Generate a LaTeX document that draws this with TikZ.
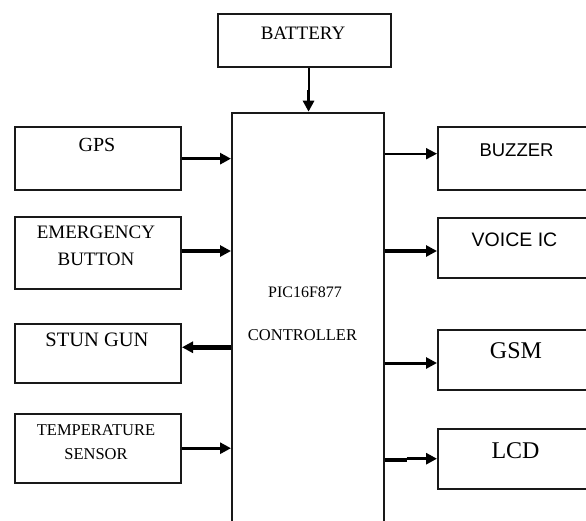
\documentclass[tikz,border=0pt]{standalone}
\usepackage{fontspec}
\setmainfont{Liberation Serif}
\newfontfamily\sansf{Liberation Sans}
\usetikzlibrary{arrows.meta}
\begin{document}
\begin{tikzpicture}[x=1pt,y=-1pt,
  blk/.style={draw=black!90,line width=2pt,inner sep=0pt,anchor=north west},
  lbl/.style={anchor=base,inner sep=0pt,text=black},
  con/.style={draw=black,line width=#1,-{Triangle[length=11pt,width=11pt]}},
]
\useasboundingbox (0,0) rectangle (586,520);
\clip (0,0) rectangle (586,520);
% boxes
\node[blk,minimum width=173.3pt,minimum height=53.3pt] (bat) at (216.7,12.7) {};
\node[blk,minimum width=151.7pt,minimum height=430pt] (ctrl) at (231,111.7) {};
\node[blk,minimum width=166pt,minimum height=63.3pt] (gps) at (14,126) {};
\node[blk,minimum width=166pt,minimum height=72pt] (emg) at (14,216) {};
\node[blk,minimum width=166pt,minimum height=59.7pt] (stun) at (14,322.7) {};
\node[blk,minimum width=166pt,minimum height=69pt] (temp) at (14,412.7) {};
\node[blk,minimum width=166pt,minimum height=63pt] (buz) at (437,126) {};
\node[blk,minimum width=166pt,minimum height=60pt] (voice) at (437,216.7) {};
\node[blk,minimum width=166pt,minimum height=60pt] (gsm) at (437,329) {};
\node[blk,minimum width=166pt,minimum height=60pt] (lcd) at (437,427.7) {};
% labels
\node[lbl,font=\fontsize{19}{21}\selectfont] (tbat) at (303,39.3) {BATTERY};
\node[lbl,font=\fontsize{20}{22}\selectfont] (tgps) at (97,151) {GPS};
\node[lbl,font=\fontsize{19}{21}\selectfont] (temg1) at (96,238.3) {EMERGENCY};
\node[lbl,font=\fontsize{19}{21}\selectfont] (temg2) at (96,265) {BUTTON};
\node[lbl,font=\fontsize{20.5}{22}\selectfont] (tstun) at (97,346.7) {STUN GUN};
\node[lbl,font=\fontsize{16.5}{18}\selectfont] (ttemp1) at (96,435) {TEMPERATURE};
\node[lbl,font=\fontsize{16.5}{18}\selectfont] (ttemp2) at (96,459) {SENSOR};
\node[lbl,font=\sansf\fontsize{18.5}{20}\selectfont] (tbuz) at (516.5,156) {BUZZER};
\node[lbl,font=\sansf\fontsize{19.5}{21}\selectfont] (tvoice) at (514.5,246.7) {VOICE IC};
\node[lbl,font=\fontsize{24}{26}\selectfont] (tgsm) at (516,358.3) {GSM};
\node[lbl,font=\fontsize{24}{26}\selectfont] (tlcd) at (515.5,458.3) {LCD};
\node[lbl,font=\fontsize{16}{18}\selectfont] (tpic) at (305,297.3) {PIC16F877};
\node[lbl,font=\fontsize{16.5}{18}\selectfont] (tctl) at (302.5,340.7) {CONTROLLER};
% connectors
\draw[line width=2pt] ([xshift=4.2pt]bat.south) -- ++(0,22) coordinate (bm);
\draw[con=3.5pt] (bm) -- (bm |- ctrl.north);
\draw[con=3.5pt] (gps.east) -- (gps.east -| ctrl.west);
\draw[con=3.5pt] ([yshift=2pt]emg.east) -- ([yshift=2pt]emg.east -| ctrl.west);
\draw[con=5pt] ([yshift=6.3pt]stun.east -| ctrl.west) -- ([yshift=6.3pt]stun.east);
\draw[con=3pt] (temp.east) -- (temp.east -| ctrl.west);
\draw[con=1.8pt] ([yshift=4.8pt]buz.west -| ctrl.east) -- ([yshift=4.8pt]buz.west);
\draw[con=3.5pt] ([yshift=-3.3pt]voice.west -| ctrl.east) -- ([yshift=-3.3pt]voice.west);
\draw[con=3pt] ([yshift=-3pt]gsm.west -| ctrl.east) -- ([yshift=-3pt]gsm.west);
\draw[line width=4pt] ([yshift=-1.3pt]lcd.west -| ctrl.east) -- ++(22,0) coordinate (lm);
\draw[con=3pt] (lm |- lcd.west) -- (lcd.west);
\end{tikzpicture}
\end{document}
